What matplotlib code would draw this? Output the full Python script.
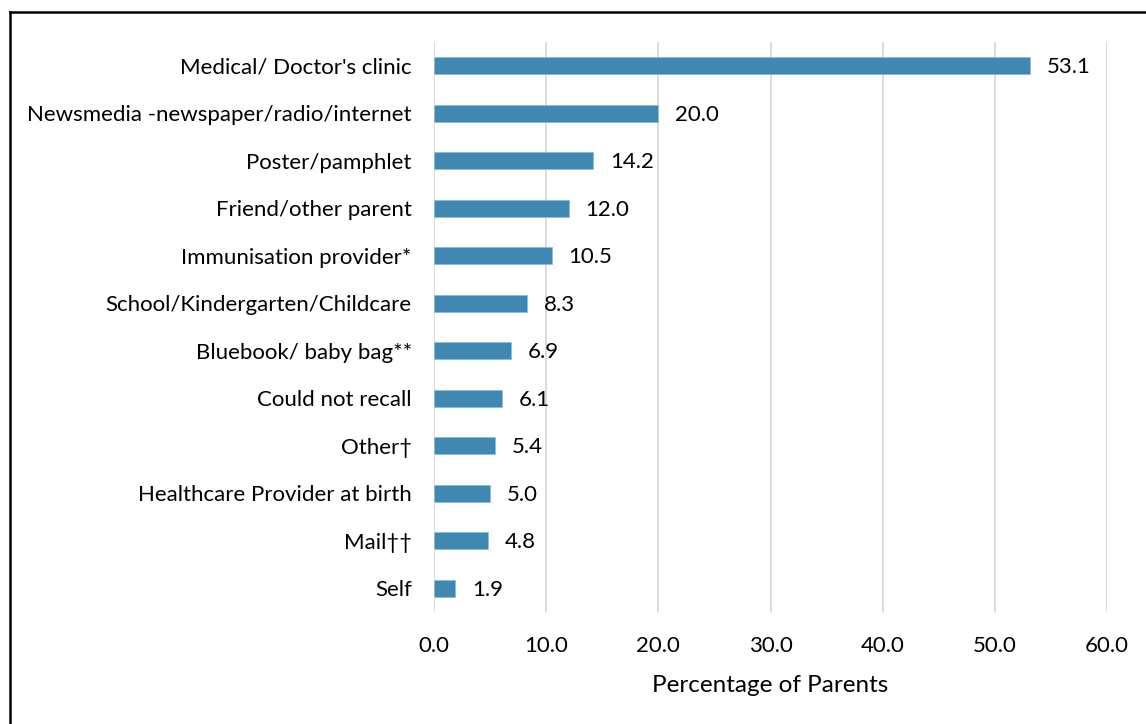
import matplotlib
matplotlib.use('Agg')
from matplotlib import pyplot as plt
from matplotlib.lines import Line2D

plt.rcParams['font.family'] = ['Lato', 'DejaVu Sans']

SOURCES = [
    "Medical/ Doctor's clinic",
    'Newsmedia -newspaper/radio/internet',
    'Poster/pamphlet',
    'Friend/other parent',
    'Immunisation provider*',
    'School/Kindergarten/Childcare',
    'Bluebook/ baby bag**',
    'Could not recall',
    'Other\u2020',
    'Healthcare Provider at birth',
    'Mail\u2020\u2020',
    'Self',
]
PERCENTAGES = [53.1, 20.0, 14.2, 12.0, 10.5, 8.3, 6.9, 6.1, 5.4, 5.0, 4.8, 1.9]
X_TICKS = [0, 10, 20, 30, 40, 50, 60]

BAR_COLOR = '#3F88B2'
GRID_COLOR = '#D9D9D9'

fig = plt.figure(figsize=(11.46, 7.24), dpi=100)
ax = fig.add_axes([0.3787, 0.1547, 0.966 - 0.3787, 0.942 - 0.1547])

positions = list(range(len(SOURCES)))
ax.barh(positions, PERCENTAGES, height=0.35, color=BAR_COLOR,
        edgecolor='#8DBBD6', linewidth=0.6, zorder=3)

# value labels to the right of each bar
for pos, val in zip(positions, PERCENTAGES):
    ax.text(val + 1.5, pos + 0.03, f'{val:.1f}', va='center', ha='left',
            fontsize=16, color='#000000')

ax.set_ylim(len(SOURCES) - 0.5, -0.5)
ax.set_yticks(positions)
ax.set_yticklabels(SOURCES, fontsize=16)
ax.set_xlim(0, 60)
ax.set_xticks(X_TICKS)
ax.set_xticklabels([f'{t:.1f}' for t in X_TICKS], fontsize=16)
ax.set_xlabel('Percentage of Parents', fontsize=17.5, labelpad=14)

ax.tick_params(axis='both', length=0)
ax.tick_params(axis='y', pad=16)
ax.tick_params(axis='x', pad=17)
for spine in ax.spines.values():
    spine.set_visible(False)
ax.xaxis.grid(True, color=GRID_COLOR, linewidth=1.3, zorder=0)
ax.set_axisbelow(True)

# outer frame, open on the right and bottom edges
fig.add_artist(Line2D([10 / 1146, 10 / 1146], [0, 1 - 12 / 724],
                      transform=fig.transFigure, color='black', linewidth=1.8))
fig.add_artist(Line2D([10 / 1146, 1], [1 - 12 / 724, 1 - 12 / 724],
                      transform=fig.transFigure, color='black', linewidth=1.8))

fig.savefig('out.png', dpi=100)
